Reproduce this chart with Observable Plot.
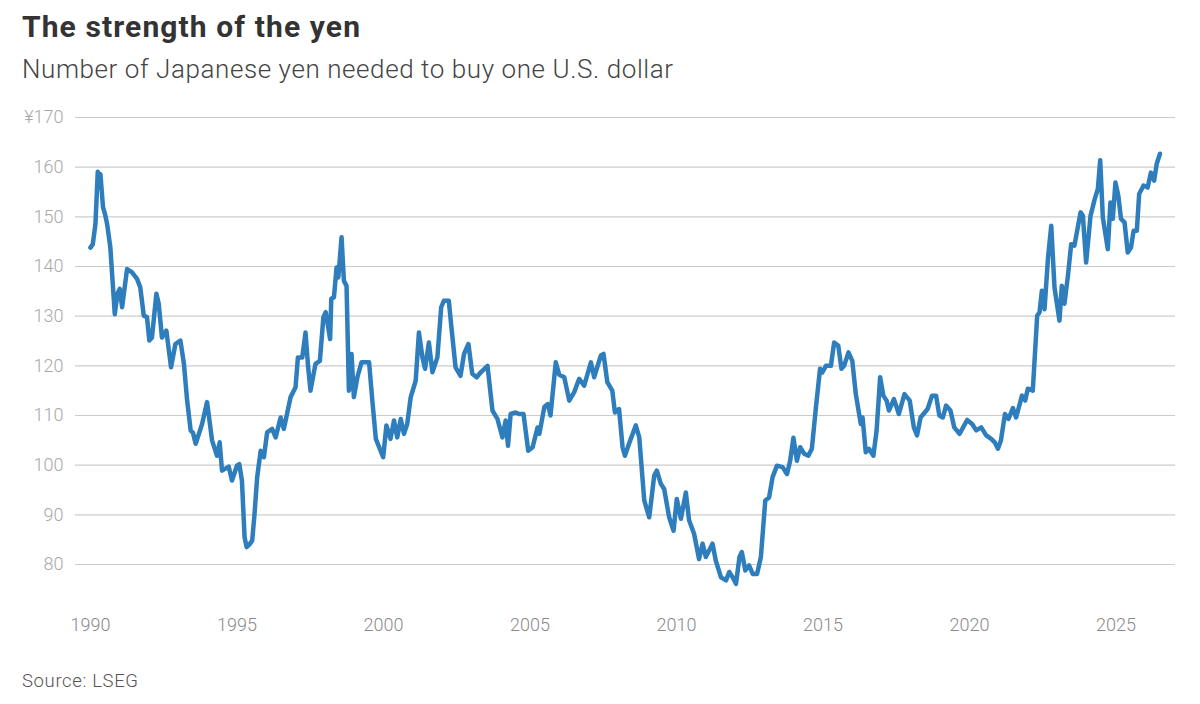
<!DOCTYPE html>
<html>
<head>
<meta charset="utf-8">
<script src="https://cdn.jsdelivr.net/npm/d3@7"></script>
<script src="https://cdn.jsdelivr.net/npm/@observablehq/plot@0.6"></script>
<style>
  body { margin:0; background:#fff; width:1200px; height:704px; overflow:hidden; position:relative; font-family: Roboto, "Noto Sans", sans-serif; }
  .t { position:absolute; white-space:nowrap; line-height:1; }
  #title { left:22px; top:12px; font-weight:700; font-size:30px; color:#333; }
  #sub { left:22px; top:56px; font-weight:300; font-size:26px; color:#444; }
  #src { left:22px; top:672px; font-weight:300; font-size:18.5px; color:#555; }
  #chart { position:absolute; left:0; top:100px; }
</style>
</head>
<body>
<div id="title" class="t" data-w="338">The strength of the yen</div>
<div id="sub" class="t" data-w="651">Number of Japanese yen needed to buy one U.S. dollar</div>
<div id="chart"></div>
<div id="src" class="t" data-w="116">Source: LSEG</div>
<script>
const years = [
  1990.00,1990.08,1990.17,1990.25,1990.30,1990.34,1990.43,1990.50,1990.57,1990.68,1990.83,1990.92,
  1991.00,1991.08,1991.25,1991.42,1991.59,1991.70,1991.82,1991.93,
  1992.01,1992.10,1992.25,1992.33,1992.44,1992.59,1992.75,1992.90,
  1993.07,1993.19,1993.30,1993.42,1993.50,1993.59,1993.81,1993.98,
  1994.15,1994.32,1994.41,1994.49,1994.72,1994.83,
  1995.00,1995.08,1995.17,1995.26,1995.33,1995.42,1995.52,1995.60,1995.69,1995.81,1995.92,
  1996.03,1996.20,1996.32,1996.49,1996.60,1996.83,
  1997.00,1997.08,1997.23,1997.34,1997.43,1997.51,1997.68,1997.83,1997.95,
  1998.03,1998.18,1998.22,1998.31,1998.40,1998.46,1998.57,1998.65,1998.74,1998.82,1998.91,1998.99,
  1999.11,1999.25,1999.51,1999.62,1999.74,1999.99,
  2000.10,2000.24,2000.36,2000.47,2000.59,2000.70,2000.81,2000.93,
  2001.10,2001.21,2001.33,2001.42,2001.55,2001.67,2001.84,2001.97,
  2002.06,2002.23,2002.32,2002.46,2002.63,2002.75,2002.90,
  2003.03,2003.18,2003.32,2003.55,2003.72,2003.89,
  2004.06,2004.17,2004.25,2004.34,2004.51,2004.63,2004.78,2004.94,
  2005.09,2005.26,2005.32,2005.49,2005.61,2005.70,2005.88,
  2006.00,2006.17,2006.34,2006.51,2006.68,2006.85,
  2007.08,2007.19,2007.42,2007.51,2007.64,2007.81,2007.90,
  2008.04,2008.16,2008.24,2008.38,2008.61,2008.73,2008.90,
  2009.07,2009.24,2009.33,2009.47,2009.58,2009.75,2009.90,
  2010.01,2010.15,2010.32,2010.43,2010.60,2010.77,2010.89,
  2011.00,2011.23,2011.34,2011.52,2011.69,2011.80,2011.92,
  2012.03,2012.15,2012.23,2012.35,2012.48,2012.60,2012.75,2012.88,
  2013.03,2013.16,2013.28,2013.43,2013.62,2013.77,2013.88,2013.99,
  2014.11,2014.22,2014.36,2014.50,2014.62,2014.76,2014.90,2014.98,
  2015.10,2015.27,2015.38,2015.52,2015.63,2015.72,2015.87,
  2016.00,2016.12,2016.29,2016.35,2016.46,2016.57,2016.72,2016.83,2016.95,
  2017.06,2017.17,2017.25,2017.42,2017.59,2017.78,2017.96,
  2018.10,2018.21,2018.33,2018.57,2018.72,2018.86,2018.97,
  2019.09,2019.20,2019.35,2019.48,2019.66,2019.92,
  2020.09,2020.23,2020.40,2020.57,2020.74,2020.86,2020.97,
  2021.07,2021.21,2021.33,2021.48,2021.59,2021.79,2021.90,2021.99,
  2022.16,2022.31,2022.39,2022.47,2022.56,2022.68,2022.79,2022.90,
  2023.07,2023.15,2023.24,2023.36,2023.47,2023.58,2023.79,2023.87,2023.98,
  2024.13,2024.27,2024.38,2024.46,2024.55,2024.72,2024.81,2024.89,2024.98,
  2025.08,2025.17,2025.29,2025.40,2025.51,2025.60,2025.71,2025.79,2025.94,
  2026.08,2026.19,2026.30,2026.39,2026.50
];
const yenPerDollar = [
  143.8,144.5,148.5,159.1,157.5,158.6,151.9,150.5,148.5,143.8,130.4,134.5,
  135.5,131.8,139.5,138.8,137.5,135.8,130.1,129.8,
  125.1,125.7,134.5,132.5,125.7,127.1,119.7,124.4,
  125.1,120.4,113.0,107.0,106.5,104.3,108.3,112.7,
  105.0,101.9,104.6,98.9,99.7,96.9,
  99.9,100.2,96.9,85.5,83.5,84.0,84.8,90.2,97.6,102.9,101.6,
  106.6,107.3,105.6,109.6,107.3,113.7,
  115.7,121.7,121.7,126.7,119.7,115.0,120.4,121.0,129.8,
  130.8,125.4,133.5,133.8,139.8,137.8,145.9,137.1,136.1,115.0,122.4,113.7,
  117.7,120.7,120.7,113.0,105.3,101.6,
  108.0,105.3,109.0,105.6,109.3,106.3,108.3,113.7,
  117.0,126.7,121.7,119.4,124.7,118.7,121.7,131.8,
  133.1,133.1,127.7,119.7,118.0,122.4,124.4,
  118.4,117.7,118.7,120.0,111.0,109.3,
  105.6,109.0,103.9,110.3,110.6,110.3,110.3,102.9,
  103.6,107.6,106.3,111.7,112.3,110.0,120.7,
  118.2,117.7,113.0,114.7,117.4,116.0,
  120.7,117.7,122.1,122.4,116.7,115.0,110.6,
  111.3,103.6,101.9,104.3,108.0,105.6,92.9,
  89.5,97.9,98.9,96.2,95.2,89.5,86.8,
  93.2,89.2,94.5,88.9,86.2,81.1,84.2,
  81.5,84.2,80.8,77.4,76.8,78.5,77.4,
  76.1,81.5,82.5,78.8,79.8,78.1,78.1,81.5,
  92.9,93.5,97.6,99.9,99.6,98.2,100.9,105.5,
  100.9,103.6,102.3,101.9,103.3,111.7,119.4,118.7,
  120.0,120.0,124.7,124.1,119.4,120.0,122.7,
  121.0,114.3,108.3,109.6,102.6,103.3,101.9,107.0,117.7,
  114.0,113.0,111.0,113.3,110.3,114.3,113.0,
  107.6,106.0,109.6,111.3,114.0,114.0,110.0,
  109.6,112.0,111.0,107.6,106.3,109.1,
  108.3,107.0,107.6,106.0,105.3,104.6,103.3,
  104.9,110.3,109.3,111.5,109.6,114.0,113.0,115.4,
  115.0,130.1,130.8,135.1,131.4,141.8,148.2,135.8,
  129.1,136.1,132.5,138.2,144.5,144.2,150.9,150.2,140.8,
  150.2,153.5,155.6,161.4,149.9,143.5,152.9,149.6,156.9,
  154.2,149.6,148.9,142.8,143.8,147.2,147.2,154.6,156.3,
  155.9,158.9,157.3,160.7,162.7
];
const yTicks = [80, 90, 100, 110, 120, 130, 140, 150, 160, 170];
const xTicks = [1990, 1995, 2000, 2005, 2010, 2015, 2020, 2025];

const data = years.map((y, i) => ({year: y, value: yenPerDollar[i]}));

const chart = Plot.plot({
  width: 1200,
  height: 550,
  marginLeft: 75,
  marginRight: 25,
  marginTop: 17,
  marginBottom: 86,
  x: {domain: [1989.49, 2027.03]},
  y: {domain: [80, 170]},
  style: {fontFamily: "Roboto, sans-serif", background: "#fff", overflow: "visible"},
  marks: [
    Plot.gridY(yTicks, {stroke: "#cccccc", strokeOpacity: 1, strokeWidth: 1.2}),
    Plot.axisY(yTicks, {tickSize: 0, tickPadding: 12, fontSize: 18, fontWeight: 300, color: "#a8a8a8", label: null,
      tickFormat: d => d === 170 ? "¥170" : String(d)}),
    Plot.axisX(xTicks, {tickSize: 0, tickPadding: 54, fontSize: 18, fontWeight: 300, color: "#8a8a8a", label: null,
      tickFormat: d => String(d)}),
    Plot.line(data, {x: "year", y: "value", stroke: "#2e7dbd", strokeWidth: 4.5, strokeLinejoin: "round", strokeLinecap: "round"})
  ]
});
document.getElementById("chart").appendChild(chart);

// fit text widths to the reference
document.querySelectorAll(".t").forEach(el => {
  const target = +el.dataset.w;
  const w = el.getBoundingClientRect().width;
  const n = el.textContent.length;
  if (n > 1) el.style.letterSpacing = ((target - w) / (n - 1)) + "px";
});
</script>
</body>
</html>
